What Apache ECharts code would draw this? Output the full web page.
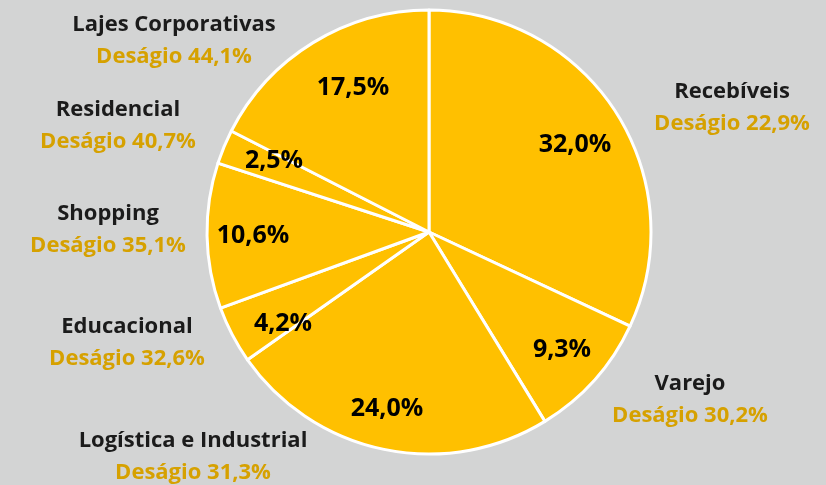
<!DOCTYPE html>
<html>
<head>
<meta charset="utf-8">
<script src="https://cdn.jsdelivr.net/npm/echarts@6/dist/echarts.min.js"></script>
<style>
  html, body { margin: 0; padding: 0; background: #d3d4d4; }
  #chart { width: 826px; height: 485px; }
</style>
</head>
<body>
<div id="chart"></div>
<script>
// Segment names, portfolio share (%) and discount (deságio, %) per segment
const categories = ['Recebíveis', 'Varejo', 'Logística e Industrial', 'Educacional', 'Shopping', 'Residencial', 'Lajes Corporativas'];
const shares = [32.0, 9.3, 24.0, 4.2, 10.6, 2.5, 17.5];
const discounts = [22.9, 30.2, 31.3, 32.6, 35.1, 40.7, 44.1];

// Centre of each name/discount block outside the pie (px)
const outerLabelPos = [[732, 108], [690, 400], [193, 457], [127, 343], [108, 230], [118, 126], [174, 41]];
// Centre of each share label inside its slice (px)
const innerLabelPos = [[575, 145], [562, 350], [387, 409], [283, 324], [253, 236], [274, 161], [353, 88]];

const FONT = '"Open Sans"';
const fmt = v => v.toFixed(1).replace('.', ',');

const chart = echarts.init(document.getElementById('chart'), null, { renderer: 'canvas' });
const data = categories.map((c, i) => ({ name: c, value: shares[i] }));

const common = {
  type: 'pie',
  center: [429, 232],
  radius: [0, 222],
  startAngle: 90,
  clockwise: true,
  data: data,
  labelLine: { show: false },
  emphasis: { disabled: true }
};

chart.setOption({
  backgroundColor: '#d3d4d4',
  animation: false,
  series: [
    Object.assign({}, common, {
      // the pie itself, with the outer name + discount labels
      itemStyle: { color: '#ffc000', borderColor: '#ffffff', borderWidth: 3 },
      label: {
        show: true,
        position: 'outside',
        overflow: 'none',
        edgeDistance: 0,
        bleedMargin: 0,
        formatter: p => '{n|' + p.name + '}\n{d|Deságio ' + fmt(discounts[p.dataIndex]) + '%}',
        rich: {
          n: { fontFamily: FONT, fontWeight: 'bold', fontSize: 22, color: '#1b1b1b', lineHeight: 32, align: 'center' },
          d: { fontFamily: FONT, fontWeight: 'bold', fontSize: 22, color: '#d6a100', lineHeight: 32, align: 'center' }
        }
      },
      labelLayout: p => ({
        x: outerLabelPos[p.dataIndex][0],
        y: outerLabelPos[p.dataIndex][1],
        align: 'center',
        verticalAlign: 'middle'
      })
    }),
    Object.assign({}, common, {
      // transparent twin carrying the share labels inside the slices
      silent: true,
      itemStyle: { color: 'rgba(0,0,0,0)', borderWidth: 0 },
      label: {
        show: true,
        position: 'inside',
        formatter: p => fmt(p.value) + '%',
        fontFamily: FONT,
        fontWeight: 'bold',
        fontSize: 25,
        color: '#000000'
      },
      labelLayout: p => ({
        x: innerLabelPos[p.dataIndex][0],
        y: innerLabelPos[p.dataIndex][1],
        align: 'center',
        verticalAlign: 'middle'
      })
    })
  ]
});
</script>
</body>
</html>
